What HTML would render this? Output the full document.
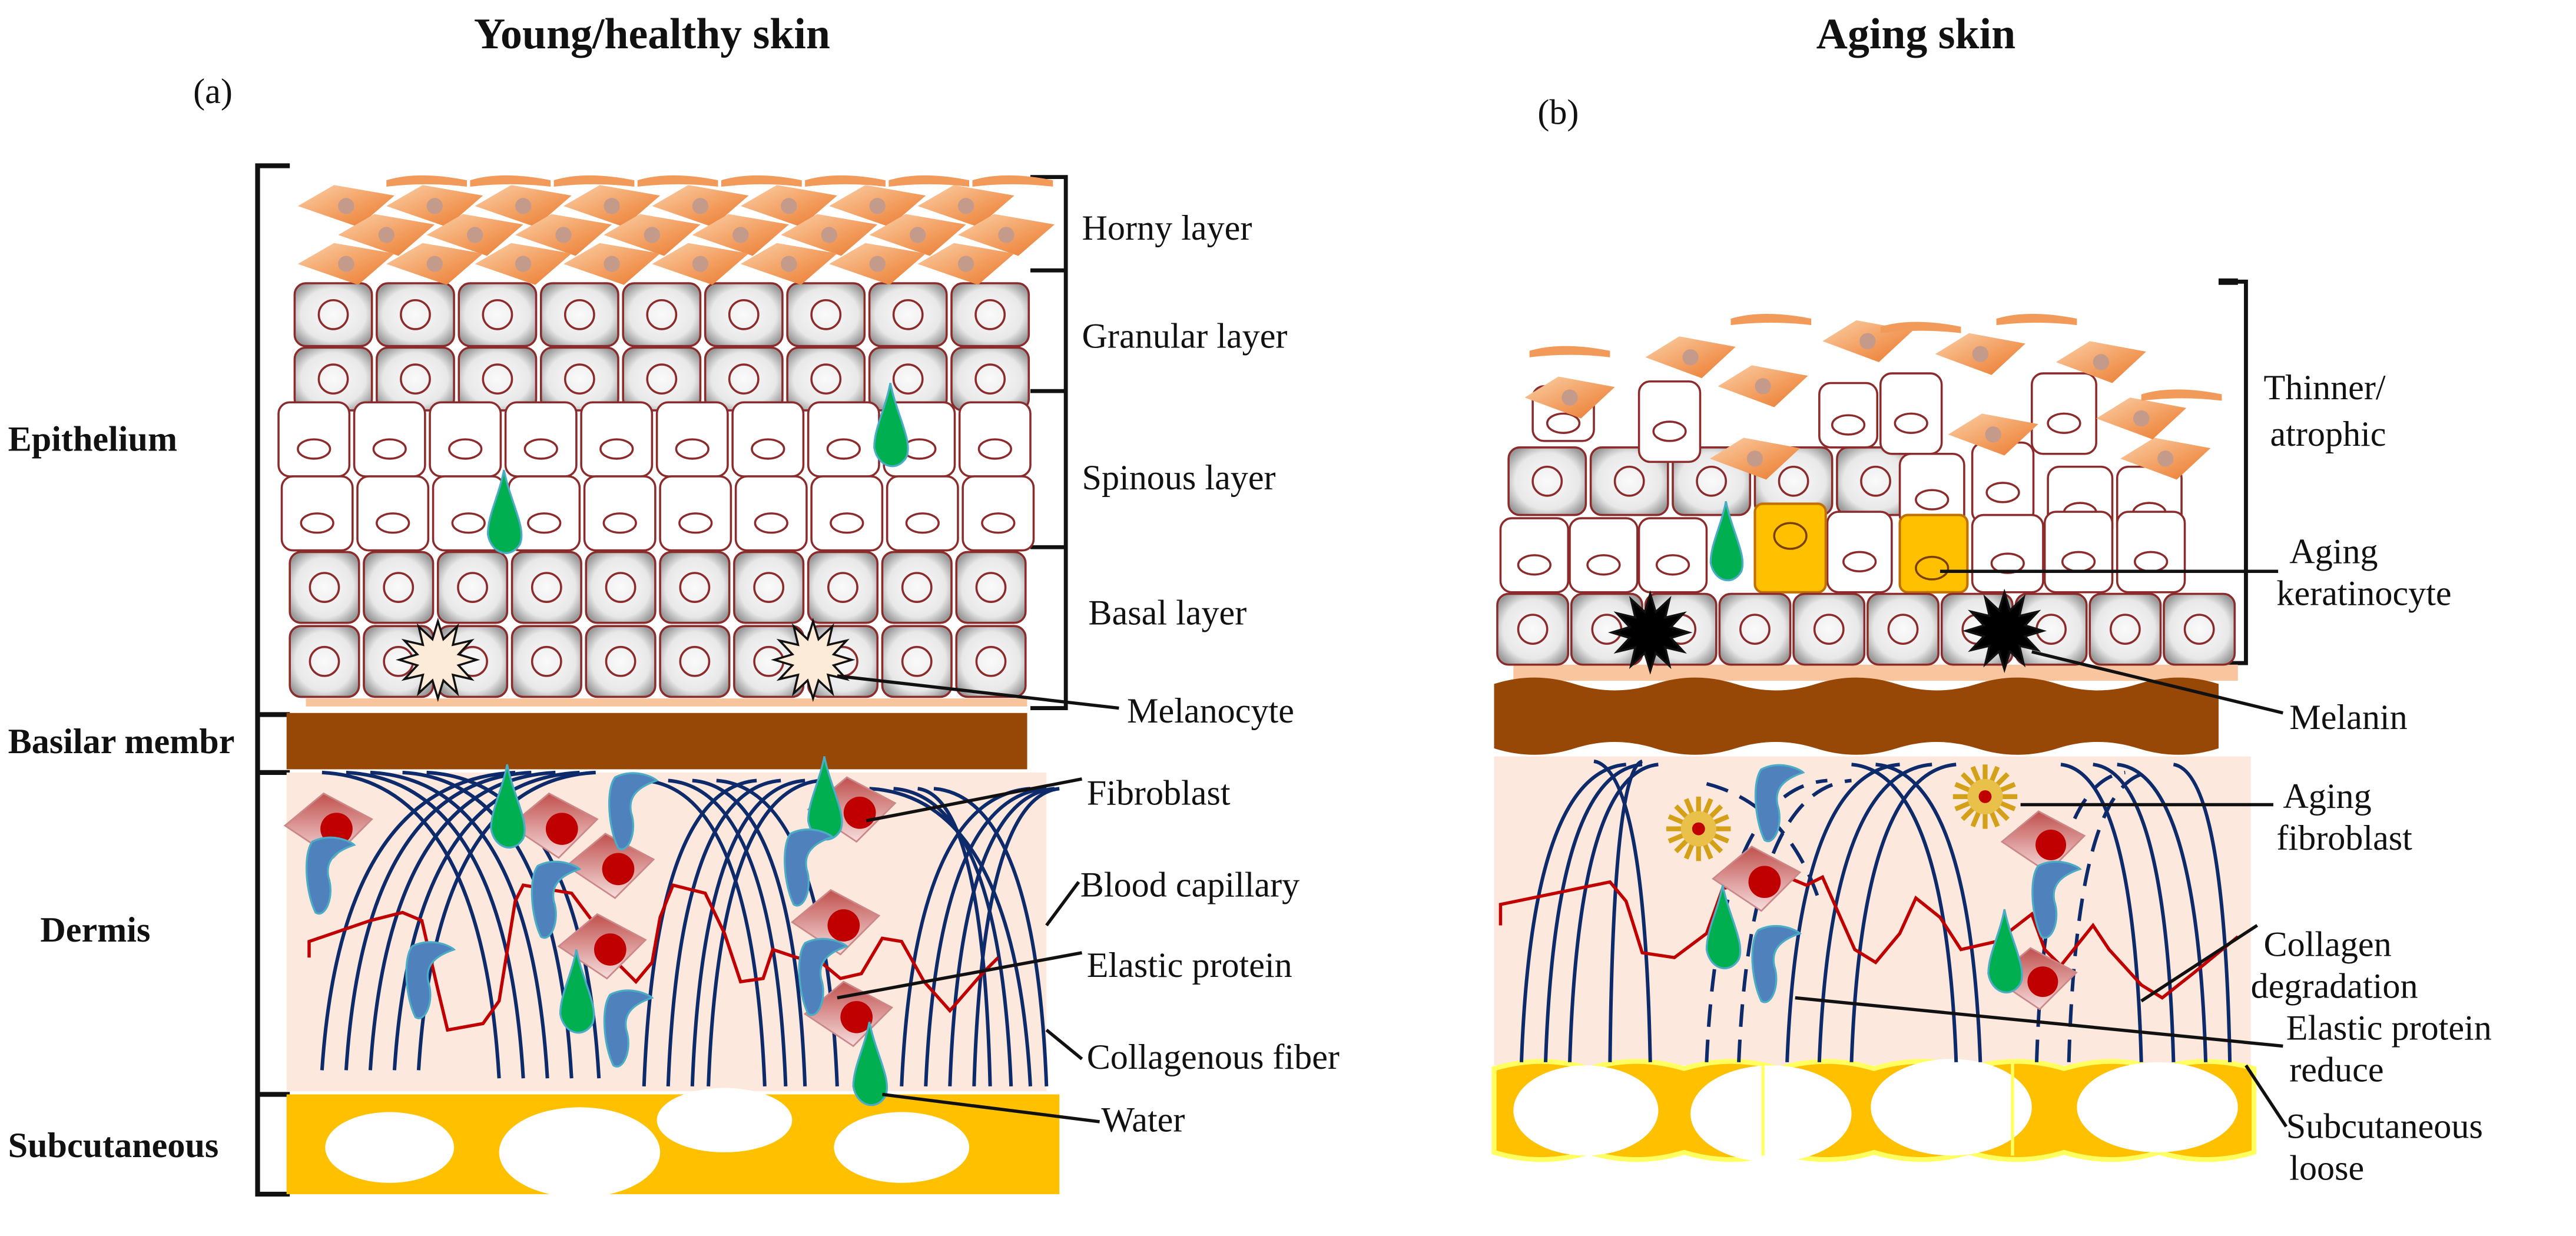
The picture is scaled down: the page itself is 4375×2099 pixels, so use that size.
<!DOCTYPE html>
<html><head><meta charset="utf-8">
<style>
html,body{margin:0;padding:0;background:#fff;}
svg{display:block;}
text{font-family:"Liberation Serif",serif;fill:#111;}
</style></head>
<body>
<svg id="s" width="4375" height="2099" viewBox="0 0 1600 768" preserveAspectRatio="none" xmlns="http://www.w3.org/2000/svg">
<defs>
<radialGradient id="gc" cx="50%" cy="50%" r="60%"><stop offset="0" stop-color="#fafafa"/><stop offset="0.7" stop-color="#e8e8e8"/><stop offset="1" stop-color="#9a9a9a"/></radialGradient>
<linearGradient id="ho" x1="0" y1="0" x2="1" y2="1"><stop offset="0" stop-color="#fbd0a8"/><stop offset="0.6" stop-color="#f29a5a"/><stop offset="1" stop-color="#e8782c"/></linearGradient>
<linearGradient id="fb" x1="0" y1="0" x2="0" y2="1"><stop offset="0" stop-color="#c0504d"/><stop offset="1" stop-color="#f6dede"/></linearGradient>
</defs>
<g id="g"></g>
<text x="405" y="30" font-size="27" font-weight="bold" text-anchor="middle">Young/healthy skin</text>
<text x="1190" y="30" font-size="27" font-weight="bold" text-anchor="middle">Aging skin</text>
<text x="120" y="64" font-size="22">(a)</text>
<text x="955" y="77" font-size="22">(b)</text>
<g font-size="22" font-weight="bold">
<text x="5" y="280">Epithelium</text>
<text x="5" y="468">Basilar membr</text>
<text x="25" y="585">Dermis</text>
<text x="5" y="719">Subcutaneous</text>
</g>
<g font-size="22">
<text x="672" y="149" fill="#333">Horny layer</text>
<text x="672" y="216">Granular layer</text>
<text x="672" y="304">Spinous layer</text>
<text x="676" y="388">Basal layer</text>
<text x="700" y="449">Melanocyte</text>
<text x="675" y="500">Fibroblast</text>
<text x="671" y="557">Blood capillary</text>
<text x="675" y="607">Elastic protein</text>
<text x="675" y="664">Collagenous fiber</text>
<text x="684" y="703">Water</text>
<text x="1406" y="248">Thinner/</text>
<text x="1410" y="277">atrophic</text>
<text x="1422" y="350">Aging</text>
<text x="1414" y="376">keratinocyte</text>
<text x="1422" y="453">Melanin</text>
<text x="1418" y="502">Aging</text>
<text x="1414" y="528">fibroblast</text>
<text x="1406" y="594">Collagen</text>
<text x="1398" y="620">degradation</text>
<text x="1420" y="646">Elastic protein</text>
<text x="1422" y="672">reduce</text>
<text x="1420" y="707">Subcutaneous</text>
<text x="1422" y="733">loose</text>
</g>
</svg>
<script>
(function(){
const g=document.getElementById('g');let h='';
function add(s){h+=s;}
add('<path d="M180 103 H160 V742 H180 M160 444 H180 M160 480 H180 M160 680 H180" stroke="#111" stroke-width="3" fill="none"/>');
add('<path d="M640 110 H662 V440 H640 M640 168 H662 M640 243 H662 M640 340 H662" stroke="#111" stroke-width="2.5" fill="none"/>');
add('<rect x="178" y="480" width="472" height="198" fill="#fce8dc"/>');
add('<rect x="190" y="434" width="448" height="5" fill="#f7c49c"/>');
add('<rect x="178" y="443" width="460" height="35" fill="#974706"/>');
add('<rect x="178" y="680" width="480" height="62" fill="#ffc000"/>');
[[242,713,40,22],[360,716,50,28],[450,696,42,20],[560,713,42,22]].forEach(e=>add(`<ellipse cx="${e[0]}" cy="${e[1]}" rx="${e[2]}" ry="${e[3]}" fill="#fff"/>`));
function cell(x,y,w,hh,gray){add(`<rect x="${x}" y="${y}" width="${w}" height="${hh}" rx="7" fill="${gray?'url(#gc)':'#fff'}" stroke="#8b2b2b" stroke-width="1.3"/>`);
 add(`<ellipse cx="${x+w/2}" cy="${y+hh/2+(gray?0:6)}" rx="${gray?9:10}" ry="${gray?9:6}" fill="none" stroke="#8b2b2b" stroke-width="1.3"/>`);}
for(let r=0;r<2;r++)for(let i=0;i<9;i++)cell(183+i*51,176+r*40,48,39,true);
for(let i=0;i<10;i++)cell(173+i*47,250,44,46,false);
for(let i=0;i<10;i++)cell(175+i*47,296,44,46,false);
for(let r=0;r<2;r++)for(let i=0;i<10;i++)cell(180+i*46,343+r*46,43,44,true);
function dia(cx,cy,w,hh){add(`<path d="M${cx-w/2} ${cy} L${cx-w/8} ${cy-hh/2} L${cx+w/2} ${cy-hh/4} L${cx+w/8} ${cy+hh/2} Z" fill="url(#ho)"/><circle cx="${cx}" cy="${cy}" r="5" fill="#c49a8a"/>`);}
for(let r=0;r<3;r++)for(let i=0;i<8;i++)dia(215+i*55+(r%2)*25,128+r*18,60,26);
for(let i=0;i<8;i++)add(`<path d="M${240+i*52} 112 q20 -6 50 0 l0 4 q-25 -3 -50 0z" fill="#f29a5a"/>`);
function star(cx,cy,r,fill){let p='';for(let k=0;k<24;k++){let a=k*Math.PI/12,rr=k%2?r*0.55:r;p+=(k?'L':'M')+(cx+rr*Math.cos(a)).toFixed(1)+' '+(cy+rr*Math.sin(a)).toFixed(1);}add(`<path d="${p}Z" fill="${fill}" stroke="#111" stroke-width="1.3"/>`);}
star(272,410,24,'#fdebd9');star(505,410,24,'#fdebd9');
function fiber(x0,x1,tp,bot,col,dash){add(`<path d="M${x0} ${bot} Q${x0+(x1-x0)*0.1} ${tp} ${x1} ${tp-5}" stroke="${col}" stroke-width="2.2" fill="none" ${dash?'stroke-dasharray="14 8"':''}/>`);}
const nv='#0d2a6b';
[[200,320],[215,330],[230,345],[245,360],[260,370]].forEach(a=>{fiber(a[0],a[1],485,665,nv);});
[[310,200],[325,215],[340,230],[355,250],[372,265]].forEach(a=>{fiber(a[0],a[1],485,670,nv);});
[[400,470],[415,485],[430,500],[440,510]].forEach(a=>{fiber(a[0],a[1],490,675,nv);});
[[475,400],[488,415],[500,430],[520,445]].forEach(a=>{fiber(a[0],a[1],490,675,nv);});
[[560,640],[575,650],[590,655],[605,658]].forEach(a=>{fiber(a[0],a[1],495,675,nv);});
[[640,540],[628,555],[615,570],[650,580]].forEach(a=>{fiber(a[0],a[1],495,675,nv);});
add('<polyline points="192,595 192,585 230,572 250,567 262,572 272,615 278,640 300,636 310,622 320,560 325,550 355,555 370,575 385,600 395,610 405,598 410,570 418,550 438,555 450,580 460,610 474,608 480,590 495,595 510,598 522,608 535,605 548,583 560,585 574,610 590,628 610,605 620,595" fill="none" stroke="#c00000" stroke-width="2"/>');
function fibro(cx,cy,s){add(`<path d="M${cx-28*s} ${cy-2} L${cx-4*s} ${cy-22*s} L${cx+26*s} ${cy-6*s} L${cx+2*s} ${cy+18*s} Z" fill="url(#fb)" stroke="#c88" stroke-width="1"/><circle cx="${cx+4*s}" cy="${cy}" r="${10*s}" fill="#c00000"/>`);}
[[205,515],[345,515],[380,540],[520,575],[530,505],[375,590],[528,632]].forEach(p=>fibro(p[0],p[1],1));
function drop(cx,cy,s){add(`<path d="M${cx} ${cy-30*s} C${cx+4*s} ${cy-10*s} ${cx+14*s} ${cy+6*s} ${cx+10*s} ${cy+16*s} C${cx+4*s} ${cy+26*s} ${cx-8*s} ${cy+22*s} ${cx-10*s} ${cy+10*s} C${cx-10*s} ${cy-2*s} ${cx-3*s} ${cy-14*s} ${cx} ${cy-30*s}Z" fill="#00b050" stroke="#4bacc6" stroke-width="1.2"/>`);}
[[315,505],[512,500],[358,620],[540,665],[553,268],[313,322]].forEach(p=>drop(p[0],p[1],1));
function elas(cx,cy){add(`<path d="M${cx-6} ${cy-22} C${cx+6} ${cy-28} ${cx+18} ${cy-22} ${cx+20} ${cy-20} C${cx+8} ${cy-16} ${cx+2} ${cy-10} ${cx+4} ${cy} C${cx+8} ${cy+12} ${cx+2} ${cy+26} ${cx-4} ${cy+22} C${cx-10} ${cy+10} ${cx-12} ${cy-14} ${cx-6} ${cy-22}Z" fill="#4f81bd" stroke="#4bacc6" stroke-width="1.2"/>`);}
[[388,505],[200,545],[262,610],[385,640],[497,540],[506,608],[340,560]].forEach(p=>elas(p[0],p[1]));
add('<g stroke="#111" stroke-width="2" fill="none"><path d="M520 420 L695 440"/><path d="M538 510 L672 484"/><path d="M650 575 L670 548"/><path d="M520 620 L672 592"/><path d="M650 640 L672 658"/><path d="M548 680 L683 697"/></g>');

add('<path d="M1378 175 H1395 V412 H1378" stroke="#111" stroke-width="2.5" fill="none"/><path d="M1378 175 H1390" stroke="#111" stroke-width="4"/>');
add('<rect x="928" y="470" width="470" height="192" fill="#fce8dc"/>');
let tp='',bt='';for(let i=0;i<8;i++){tp+=' q29.5 -9 59 0';bt+=' q-29.5 9 -59 0';}
add(`<path d="M928 664${tp} V716${bt} Z" fill="#ffc000" stroke="#ffff60" stroke-width="3"/>`);
[[985,690,45,28],[1100,692,50,30],[1212,688,50,30],[1340,688,50,28]].forEach(e=>add(`<ellipse cx="${e[0]}" cy="${e[1]}" rx="${e[2]}" ry="${e[3]}" fill="#fff"/>`));
add('<path d="M1095 662 V718 M1250 660 V718" stroke="#ffff60" stroke-width="2"/>');
add('<rect x="940" y="413" width="450" height="10" fill="#f9c59f"/>');
add('<path d="M928 425 q25 -8 50 0 t50 0 t50 0 t50 0 t50 0 t50 0 t50 0 t50 0 t50 0 V465 q-25 8 -50 0 t-50 0 t-50 0 t-50 0 t-50 0 t-50 0 t-50 0 t-50 0 t-50 0 Z" fill="#974706"/>');
for(let i=0;i<5;i++)cell(937+i*51,278,48,42,true);
[[952,240,38,34],[1018,237,38,50],[1130,238,36,40],[1168,232,38,50],[1262,232,40,50],[1180,282,40,45],[1225,275,38,50],[1272,290,40,45],[1315,290,40,45]].forEach(c=>cell(c[0],c[1],c[2],c[3],false));
[[932,322],[975,322],[1018,322]].forEach(c=>cell(c[0],c[1],42,46,false));
cell(1135,318,40,50,false);cell(1225,320,44,48,false);cell(1270,318,42,50,false);cell(1315,318,42,50,false);
add('<rect x="1090" y="313" width="44" height="55" rx="5" fill="#ffc000" stroke="#c07000" stroke-width="1.5"/><ellipse cx="1112" cy="333" rx="10" ry="8" fill="none" stroke="#7a4000" stroke-width="1.3"/>');
add('<rect x="1180" y="320" width="42" height="48" rx="5" fill="#ffc000" stroke="#c07000" stroke-width="1.5"/><ellipse cx="1200" cy="353" rx="10" ry="7" fill="none" stroke="#7a4000" stroke-width="1.3"/>');
drop(1072,340,0.95);
for(let i=0;i<10;i++)cell(930+i*46,369,44,44,true);
star(1025,393,24,'#000');star(1245,392,24,'#000');
[[975,247],[1050,222],[1095,240],[1160,212],[1230,220],[1305,225],[1345,285],[1090,285],[1238,270],[1330,260]].forEach(p=>dia(p[0],p[1],56,26));
[[950,218],[1075,198],[1168,203],[1240,198],[1330,245]].forEach(p=>add(`<path d="M${p[0]} ${p[1]} q20 -6 50 0 l0 4 q-25 -3 -50 0z" fill="#f29a5a"/>`));
[[945,1010],[960,1020],[975,1030]].forEach(a=>fiber(a[0],a[1],480,660,nv));
[[1000,1020],[1025,990]].forEach(a=>fiber(a[0],a[1],478,660,nv));
[[1060,1135],[1080,1150]].forEach(a=>fiber(a[0],a[1],490,660,nv,1));
[[1110,1180],[1130,1200],[1150,1215]].forEach(a=>fiber(a[0],a[1],480,660,nv));
[[1215,1150],[1230,1165]].forEach(a=>fiber(a[0],a[1],480,660,nv));
[[1265,1320],[1285,1335]].forEach(a=>fiber(a[0],a[1],485,660,nv,1));
[[1330,1280],[1350,1300],[1370,1315]].forEach(a=>fiber(a[0],a[1],480,660,nv));
[[1385,1350]].forEach(a=>fiber(a[0],a[1],480,660,nv));
add('<path d="M1060 487 Q1110 500 1130 560" stroke="'+nv+'" stroke-width="2.2" fill="none" stroke-dasharray="14 8"/>');
add('<polyline points="932,575 932,562 1000,548 1010,560 1020,592 1040,595 1060,580 1070,552 1110,545 1122,550 1132,545 1152,590 1165,598 1180,580 1190,558 1205,570 1218,590 1240,585 1262,568 1270,590 1280,600 1300,575 1310,590 1330,612 1343,620 1362,605 1390,582" fill="none" stroke="#c00000" stroke-width="2"/>');
fibro(1092,548,1);fibro(1270,525,0.95);fibro(1265,610,0.95);
drop(1070,580,1);drop(1245,595,1);
elas(1100,500);elas(1098,600);elas(1272,560);
function flower(cx,cy){let p='';for(let k=0;k<16;k++){let a=k*Math.PI/8;p+=`<line x1="${cx}" y1="${cy}" x2="${(cx+20*Math.cos(a)).toFixed(1)}" y2="${(cy+20*Math.sin(a)).toFixed(1)}" stroke="#d4a017" stroke-width="3"/>`;}add(p+`<circle cx="${cx}" cy="${cy}" r="11" fill="#e8c04a"/><circle cx="${cx}" cy="${cy}" r="4" fill="#c00000"/>`);}
flower(1055,515);flower(1233,495);
add('<g stroke="#111" stroke-width="2" fill="none"><path d="M1205 355 L1415 355"/><path d="M1262 405 L1418 443"/><path d="M1255 500 L1412 500"/><path d="M1330 622 L1402 575"/><path d="M1115 620 L1418 650"/><path d="M1395 662 L1420 700"/></g>');
g.innerHTML=h;
})();
</script>
</body></html>
